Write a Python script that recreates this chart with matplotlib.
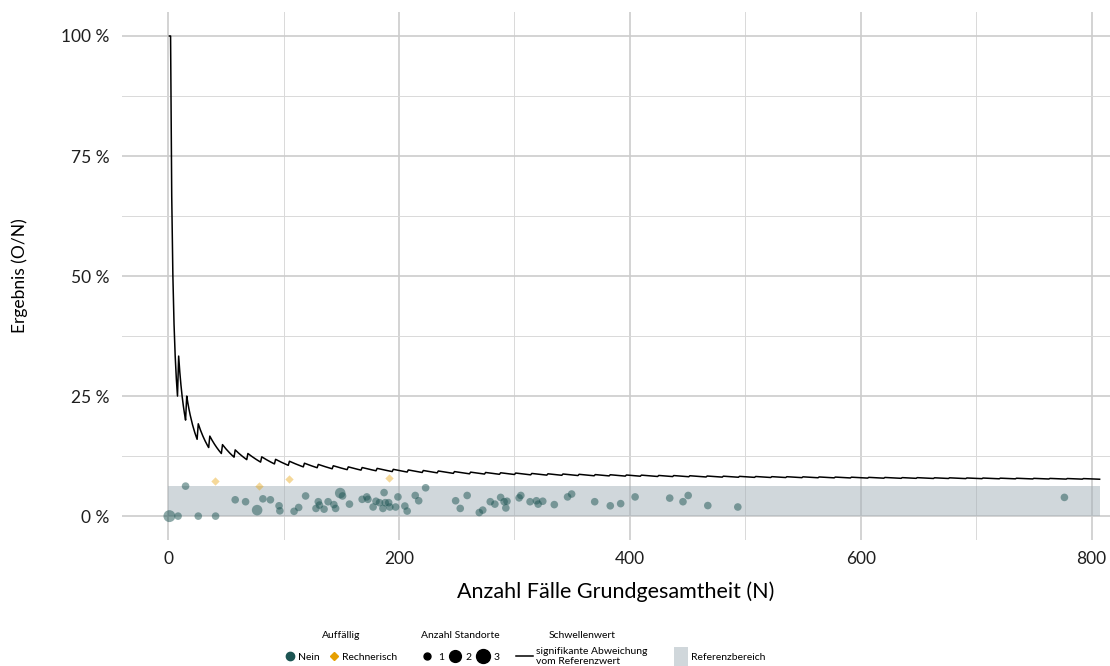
import numpy as np
import matplotlib
matplotlib.use("Agg")
from matplotlib import pyplot as plt
from matplotlib.lines import Line2D
from matplotlib.patches import Patch
from matplotlib.ticker import MultipleLocator, FuncFormatter

plt.rcParams['font.family'] = ['Lato', 'DejaVu Sans']

# Standorte: Fallzahl N, Ergebnis in %, Anzahl Standorte, Auffälligkeit
fall_n = [1, 8.5, 15, 26, 41, 58, 67, 77, 82, 88.5, 96, 96.7, 109, 113, 119,
          128, 130, 131, 135, 138.5, 143.5, 145, 149, 151, 157, 168, 172, 173,
          177.5, 180, 183, 186, 187, 188, 191, 192, 197, 199, 205, 207, 214,
          217, 223, 249, 253, 259, 269.5, 272.5, 279, 283, 288, 291, 292.5,
          293.5, 304, 305.5, 313.5, 319, 320.5, 324.5, 334.5, 346, 349.5, 369.5,
          383, 392, 404.5, 434.5, 446, 450.5, 467.5, 493.5, 776.5]
ergebnis = [0, 0, 6.25, 0, 0, 3.4, 3.0, 1.25, 3.6, 3.4, 2.15, 1.1, 1.0, 1.8,
            4.2, 1.6, 3.0, 2.3, 1.45, 3.0, 2.4, 1.6, 4.8, 4.2, 2.5, 3.5, 4.0,
            3.5, 1.9, 3.1, 2.8, 1.6, 4.9, 2.8, 2.8, 1.9, 1.9, 4.0, 2.1, 1.05,
            4.3, 3.2, 5.9, 3.2, 1.6, 4.3, 0.75, 1.25, 3.0, 2.5, 3.9, 3.0, 1.7,
            3.1, 3.8, 4.3, 3.0, 3.2, 2.5, 3.1, 2.4, 4.0, 4.6, 3.0, 2.15, 2.6,
            4.0, 3.75, 3.0, 4.3, 2.2, 1.9, 3.9]
standorte = [3, 1, 1, 1, 1, 1, 1, 2, 1, 1, 1, 1, 1, 1, 1, 1, 1, 1, 1, 1, 1, 1,
             2, 1, 1, 1, 1, 1, 1, 1, 1, 1, 1, 1, 1, 1, 1, 1, 1, 1, 1, 1, 1, 1,
             1, 1, 1, 1, 1, 1, 1, 1, 1, 1, 1, 1, 1, 1, 1, 1, 1, 1, 1, 1, 1, 1,
             1, 1, 1, 1, 1, 1, 1]

# rechnerisch auffällige Standorte
auff_n = [40.5, 78.5, 104.5, 191.5]
auff_ergebnis = [7.35, 6.3, 7.7, 7.85]

# Schwellenwert: N, ab denen die kritische Fallzahl O um eins steigt
schwelle_sprung_n = [2, 9, 16, 26, 36, 47, 58, 69, 81, 93, 105, 118, 130, 143,
                     156, 168, 181, 195, 208, 221, 234, 248, 262, 275, 288, 301,
                     315, 329, 342, 356, 370, 383, 397, 410, 425, 438, 452, 467,
                     481, 495, 509, 523, 536, 550, 564, 578, 592, 607, 621, 636,
                     649, 664, 677, 692, 706, 721, 735, 750, 764, 779, 793]
schwelle_max_n = 807

# Referenzbereich in %
ref_unten = 0
ref_oben = 6.25

teal = '#1d5553'
orange = '#e69f00'
groesse = {1: 30, 2: 58, 3: 74}

fig = plt.figure(figsize=(11.1, 6.66), dpi=100)
ax = fig.add_axes([0.110, 0.189, 0.890, 0.793])

ax.fill_between([0, schwelle_max_n], ref_unten, ref_oben, color='#a3b0b8',
                alpha=0.5, lw=0, zorder=1)

ax.scatter(fall_n, ergebnis, s=[groesse[s] for s in standorte], color=teal,
           alpha=0.5, lw=0, zorder=2)
ax.scatter(auff_n, auff_ergebnis, s=18, marker='D', color=orange, alpha=0.4,
           lw=0, zorder=2)

# Schwellenwert als kritische Fallzahl / N
n_werte = np.arange(1, schwelle_max_n + 1)
o_krit = 1 + np.searchsorted(schwelle_sprung_n, n_werte, side='right')
ax.plot(n_werte, o_krit / n_werte * 100, color='black', lw=1.1, zorder=3)

ax.set_xlim(-40, 816)
ax.set_ylim(-5, 105)
ax.xaxis.set_major_locator(MultipleLocator(200))
ax.xaxis.set_minor_locator(MultipleLocator(100))
ax.yaxis.set_major_locator(MultipleLocator(25))
ax.yaxis.set_minor_locator(MultipleLocator(12.5))
ax.yaxis.set_major_formatter(FuncFormatter(lambda v, p: f"{v:.0f} %"))
ax.grid(which='major', color='#cccccc', lw=1.2, zorder=0)
ax.grid(which='minor', color='#d9d9d9', lw=0.7, zorder=0)
ax.set_axisbelow(True)
for s in ax.spines.values():
    s.set_visible(False)
ax.tick_params(which='both', length=0, labelsize=12.5, labelcolor='#1e1e1e')
ax.tick_params(axis='x', pad=8)
ax.tick_params(axis='y', pad=9)
ax.set_xlabel("Anzahl Fälle Grundgesamtheit (N)", fontsize=15.5, labelpad=10)
ax.set_ylabel("Ergebnis (O/N)", fontsize=12.5, labelpad=24)

# Legenden unten
lfs = 7.5
oben = 1 - 631 / 666
leg_kw = dict(frameon=False, fontsize=lfs, title_fontsize=lfs, loc='upper center',
              borderpad=0, borderaxespad=0)
h1 = [Line2D([], [], ls='', marker='o', ms=6, color=teal),
      Line2D([], [], ls='', marker='D', ms=4.5, color=orange)]
l1 = fig.legend(h1, ['Nein', 'Rechnerisch'], title='Auffällig', ncol=2,
                columnspacing=0.8, handletextpad=0.3,
                bbox_to_anchor=(341 / 1110, oben), handlelength=1, **leg_kw)
h2 = [Line2D([], [], ls='', marker='o', ms=s, color='black') for s in (5, 8.5, 10)]
l2 = fig.legend(h2, ['1', '2', '3'], title='Anzahl Standorte', ncol=3,
                columnspacing=0.4, handletextpad=0.35,
                bbox_to_anchor=(460 / 1110, oben), handlelength=1.35, **leg_kw)
h3 = [Line2D([], [], color='black', lw=1.1)]
l3 = fig.legend(h3, ['signifikante Abweichung\nvom Referenzwert'], title='Schwellenwert',
                handletextpad=0.3, bbox_to_anchor=(582 / 1110, oben),
                handlelength=1.6, **leg_kw)
h4 = [Patch(facecolor='#a3b0b8', alpha=0.5, lw=0)]
l4 = fig.legend(h4, ['Referenzbereich'], title=' ', handleheight=2.6,
                handletextpad=0.3, handlelength=1.3,
                bbox_to_anchor=(720 / 1110, oben), **leg_kw)
for lg, sep in ((l1, 9), (l2, 9), (l3, 5), (l4, 5)):
    lg._legend_box.sep = sep

fig.savefig("out.png", dpi=100)
